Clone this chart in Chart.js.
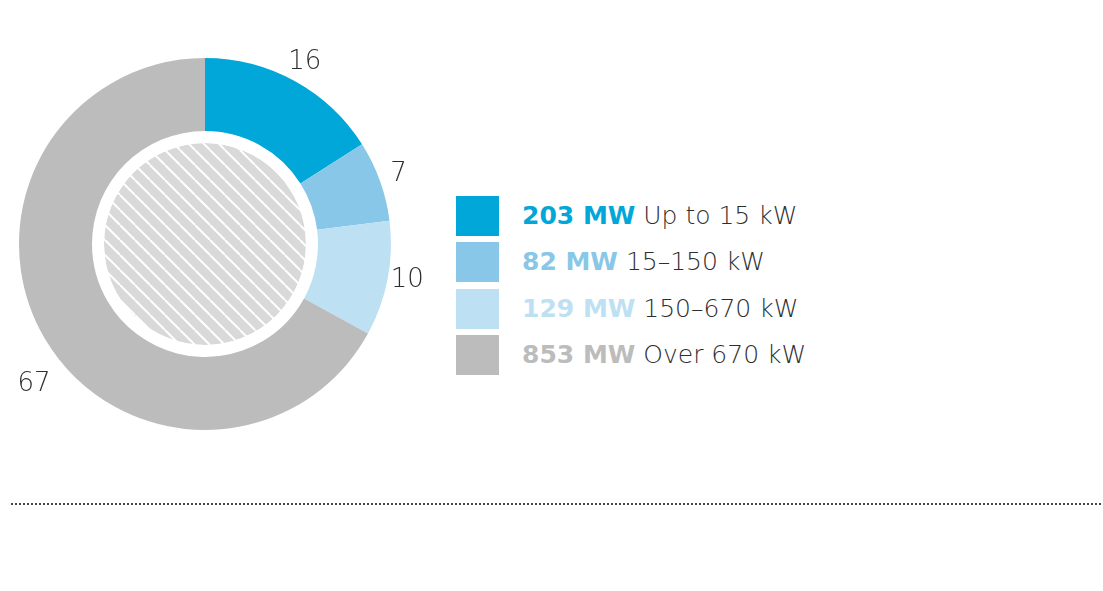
<!DOCTYPE html>
<html>
<head>
<meta charset="utf-8">
<script src="https://cdn.jsdelivr.net/npm/chart.js@4"></script>
<style>
  html, body { margin: 0; padding: 0; background: #fff; }
  body { width: 1103px; height: 591px; position: relative; overflow: hidden;
         font-family: "DejaVu Sans", sans-serif; }
  #chartBox { position: absolute; left: 0; top: 0; width: 440px; height: 470px; }
  #legend { position: absolute; left: 456px; top: 196px; }
  .row { position: relative; height: 46.3px; }
  .swatch { position: absolute; left: 0; top: 0; width: 43px; height: 40px; }
  .txt { position: absolute; left: 66px; top: 0; height: 40px; line-height: 40px;
         white-space: nowrap; font-size: 25px; color: #2e2e2e; font-weight: 200; }
  .txt b { font-weight: 700; }
  #rule { position: absolute; left: 11px; top: 503px; width: 1090px; border-top: 2px dotted #444; }
</style>
</head>
<body>
<div id="chartBox"><canvas id="chart"></canvas></div>
<div id="legend"></div>
<div id="rule"></div>
<script>
// capacity per size class, and its share of the total
const categories = ["Up to 15 kW", "15–150 kW", "150–670 kW", "Over 670 kW"];
const capacityMW = [203, 82, 129, 853];
const sharePct = [16, 7, 10, 67];
const colors = ["#00a7d8", "#88c7e7", "#bee0f3", "#bcbcbc"];

// label nudges in px (the big slice's label sits lower than its mid-angle)
const labelNudge = [[-1, 1], [-3, 1], [-3, -3], [9, 34]];

// diagonal white stripes on light grey for the centre disc
function makeHatch() {
    const size = 15;
    const c = document.createElement("canvas");
    c.width = size;
    c.height = size;
    const g = c.getContext("2d");
    g.fillStyle = "#d9d9d9";
    g.fillRect(0, 0, size, size);
    g.strokeStyle = "#ffffff";
    g.lineWidth = 2;
    g.beginPath();
    for (const o of [-size, 0, size]) {
        g.moveTo(o, 0);
        g.lineTo(o + size, size);
    }
    g.stroke();
    return g.createPattern(c, "repeat");
}

const shareLabels = {
    id: "shareLabels",
    afterDatasetsDraw(chart) {
        const ctx = chart.ctx;
        const meta = chart.getDatasetMeta(0);
        ctx.save();
        ctx.font = "200 26px 'DejaVu Sans', sans-serif";
        ctx.fillStyle = "#2e2e2e";
        ctx.textAlign = "center";
        ctx.textBaseline = "middle";
        meta.data.forEach((arc, i) => {
            const p = arc.getProps(["x", "y", "startAngle", "endAngle", "outerRadius"], true);
            const mid = (p.startAngle + p.endAngle) / 2;
            const r = p.outerRadius + 23;
            const [nx, ny] = labelNudge[i];
            ctx.fillText(String(sharePct[i]),
                p.x + Math.cos(mid) * r + nx, p.y + Math.sin(mid) * r + ny);
        });
        ctx.restore();
    },
};

new Chart(document.getElementById("chart"), {
    type: "doughnut",
    data: {
        labels: categories,
        datasets: [
            { data: sharePct, backgroundColor: colors, borderWidth: 0, weight: 73 },
            { data: [1], backgroundColor: "#ffffff", borderWidth: 0, weight: 12 },
            { data: [1], backgroundColor: makeHatch(), borderWidth: 0, weight: 101 },
        ],
    },
    options: {
        responsive: true,
        maintainAspectRatio: false,
        animation: false,
        events: [],
        cutout: 0,
        hoverOffset: 0,
        layout: { padding: { left: 19, top: 58, right: 49, bottom: 40 } },
        plugins: { legend: { display: false }, tooltip: { enabled: false } },
    },
    plugins: [shareLabels],
});

const legend = document.getElementById("legend");
categories.forEach((name, i) => {
    const row = document.createElement("div");
    row.className = "row";
    row.innerHTML =
        `<div class="swatch" style="background:${colors[i]}"></div>` +
        `<div class="txt"><b style="color:${colors[i]}">${capacityMW[i]} MW</b> ${name}</div>`;
    legend.appendChild(row);
});
</script>
</body>
</html>
